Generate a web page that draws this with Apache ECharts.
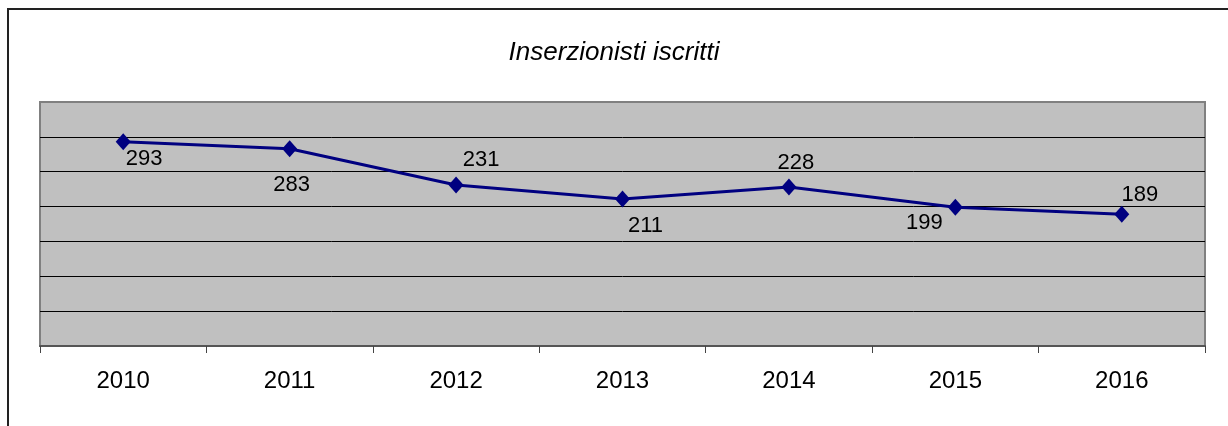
<!DOCTYPE html>
<html>
<head>
<meta charset="utf-8">
<script src="https://cdn.jsdelivr.net/npm/echarts@6/dist/echarts.min.js"></script>
<style>
  html, body { margin: 0; padding: 0; background: #fff; }
  #chart { width: 1228px; height: 426px; }
</style>
</head>
<body>
<div id="chart"></div>
<script>
// dati del grafico
var years = ['2010', '2011', '2012', '2013', '2014', '2015', '2016'];
var iscritti = [293, 283, 231, 211, 228, 199, 189];
// posizione delle etichette rispetto al punto (come nell'originale)
var labelOffsets = [[21, 17], [2, 36], [25, -25], [23, 27], [7, -24], [-31, 16], [18, -19]];

var seriesData = iscritti.map(function (v, i) {
  return { value: v, label: { offset: labelOffsets[i] } };
});

var myChart = echarts.init(document.getElementById('chart'));
myChart.setOption({
  animation: false,
  backgroundColor: '#fff',
  textStyle: { fontFamily: 'Liberation Sans, Arial, sans-serif' },
  title: {
    text: 'Inserzionisti iscritti',
    left: 'center',
    top: 35,
    textStyle: {
      fontSize: 26,
      fontStyle: 'italic',
      fontWeight: 'normal',
      color: '#000'
    }
  },
  graphic: [{ //cornice esterna
    type: 'rect',
    shape: { x: 8, y: 9, width: 1400, height: 600 },
    style: { fill: 'none', stroke: '#222', lineWidth: 2 },
    silent: true
  }],
  grid: {
    left: 40,
    right: 23,
    top: 102,
    bottom: 80,
    show: true,
    backgroundColor: '#c0c0c0',
    borderColor: '#808080',
    borderWidth: 2
  },
  xAxis: {
    type: 'category',
    data: years,
    boundaryGap: true,
    axisLine: { show: true, lineStyle: { color: '#555', width: 2 } },
    axisTick: { show: true, length: 7, alignWithLabel: false, lineStyle: { color: '#444', width: 1 } },
    axisLabel: { color: '#000', fontSize: 24, margin: 23 },
    splitLine: { show: false }
  },
  yAxis: {
    type: 'value',
    min: 0,
    max: 350,
    interval: 50,
    axisLine: { show: false },
    axisTick: { show: false },
    axisLabel: { show: false },
    splitLine: {
      show: true,
      // l'ultima linea (350) resta grigia come il bordo
      lineStyle: { color: ['#000', '#000', '#000', '#000', '#000', '#000', '#000', '#808080'], width: 1 }
    }
  },
  series: [{
    type: 'line',
    data: seriesData,
    symbol: 'diamond',
    symbolSize: [15, 17],
    itemStyle: { color: '#000080' },
    lineStyle: { color: '#000080', width: 3 },
    label: {
      show: true,
      position: 'inside',
      color: '#000',
      fontSize: 22
    }
  }]
});
</script>
</body>
</html>
